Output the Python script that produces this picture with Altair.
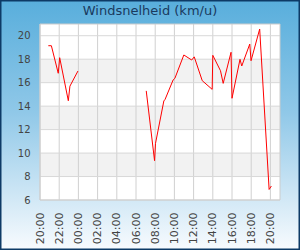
import altair as alt
import pandas as pd

# ---- data ----
times = [
    "2024-01-01T20:52:00", "2024-01-01T21:11:00", "2024-01-01T21:54:00", "2024-01-01T22:03:00",
    "2024-01-01T22:57:00", "2024-01-01T23:07:00", "2024-01-01T23:57:00",
    "2024-01-02T07:04:00", "2024-01-02T07:56:00", "2024-01-02T08:02:00", "2024-01-02T08:54:00",
    "2024-01-02T09:02:00", "2024-01-02T09:52:00", "2024-01-02T10:03:00", "2024-01-02T10:59:00",
    "2024-01-02T11:48:00", "2024-01-02T12:04:00", "2024-01-02T12:54:00", "2024-01-02T13:56:00",
    "2024-01-02T14:00:00", "2024-01-02T14:48:00", "2024-01-02T15:05:00", "2024-01-02T15:54:00",
    "2024-01-02T16:00:00", "2024-01-02T16:50:00", "2024-01-02T17:01:00", "2024-01-02T17:51:00",
    "2024-01-02T17:59:00", "2024-01-02T18:53:00", "2024-01-02T19:52:00", "2024-01-02T20:06:00",
]
speed = [
    19.15, 19.15, 16.8, 18.13, 14.46, 15.7, 16.99,
    15.3, 9.35, 10.83, 14.44, 14.58, 16.23, 16.37, 18.36,
    17.93, 18.2, 16.17, 15.43, 18.33, 17.02, 15.94, 18.59,
    14.67, 17.99, 17.42, 19.29, 17.87, 20.57, 6.9, 7.19,
]
segment = [1] * 7 + [2] * 24

x_tick_hours = [20, 22, 0, 2, 4, 6, 8, 10, 12, 14, 16, 18, 20]
x_tick_days = [1, 1, 2, 2, 2, 2, 2, 2, 2, 2, 2, 2, 2]
y_ticks = [6, 8, 10, 12, 14, 16, 18, 20]
band_lo = [8, 12, 16]
band_hi = [10, 14, 18]
title_text = "Windsnelheid (km/u)"

x_tick_dt = [alt.DateTime(year=2024, month=1, date=d, hours=h) for d, h in zip(x_tick_days, x_tick_hours)]
x_domain = [alt.DateTime(year=2024, month=1, date=1, hours=20),
            alt.DateTime(year=2024, month=1, date=2, hours=21)]
y_domain = [6, 21]

df = pd.DataFrame({"t": times, "v": speed, "seg": segment})
bands = pd.DataFrame({"lo": band_lo, "hi": band_hi})
vgrid = pd.DataFrame({"t": [f"2024-01-0{d}T{h:02d}:00:00" for d, h in zip(x_tick_days, x_tick_hours)]})
hgrid = pd.DataFrame({"v": y_ticks})
one = pd.DataFrame({"a": [0]})

xscale = alt.Scale(domain=x_domain)
yscale = alt.Scale(domain=y_domain, nice=False, zero=False)

xaxis = alt.Axis(values=x_tick_dt, format="%H:%M", labelAngle=-90, labelFontSize=11,
                 labelColor="#444444", labelFont="DejaVu Sans", ticks=False,
                 tickSize=0, domain=False, grid=False, labelPadding=12,
                 title=None, zindex=2, labelOverlap=False)
yaxis = alt.Axis(values=y_ticks, labelFontSize=10, labelColor="#444444",
                 labelFont="DejaVu Sans", ticks=False, tickSize=0, domain=False,
                 grid=False, labelPadding=10, title=None, zindex=2)

grad = alt.Gradient(
    gradient="linear",
    stops=[alt.GradientStop(color="#58aedc", offset=0),
           alt.GradientStop(color="#90c8e8", offset=0.45),
           alt.GradientStop(color="#f8fbfe", offset=1)],
    x1=0, x2=0, y1=0, y2=1,
)

bg = alt.Chart(one).mark_rect(fill=grad).encode(
    x=alt.value(-40), x2=alt.value(260), y=alt.value(-24), y2=alt.value(226)
)
frame = alt.Chart(one).mark_rect(fill=None, stroke="#0d3a66", strokeWidth=1.5).encode(
    x=alt.value(-39.25), x2=alt.value(259.25), y=alt.value(-23.25), y2=alt.value(225.25)
)
plotbg = alt.Chart(one).mark_rect(fill="white").encode(
    x=alt.value(0), x2=alt.value(240), y=alt.value(0), y2=alt.value(176)
)
bandl = alt.Chart(bands).mark_rect(fill="#f2f2f2").encode(
    x=alt.value(0), x2=alt.value(240),
    y=alt.Y("lo:Q", scale=yscale, axis=yaxis), y2="hi:Q",
)
vlines = alt.Chart(vgrid).mark_rule(color="#d0d0d0", strokeWidth=1).encode(
    x=alt.X("t:T", scale=xscale, axis=xaxis), y=alt.value(0), y2=alt.value(176)
)
hlines = alt.Chart(hgrid).mark_rule(color="#d8d8d8", strokeWidth=1).encode(
    y=alt.Y("v:Q", scale=yscale, axis=yaxis), x=alt.value(0), x2=alt.value(240)
)
line = alt.Chart(df).mark_line(color="#ff0000", strokeWidth=1).encode(
    x=alt.X("t:T", scale=xscale, axis=xaxis),
    y=alt.Y("v:Q", scale=yscale, axis=yaxis),
    detail="seg:N",
)
border = alt.Chart(one).mark_rect(fill=None, stroke="#cccccc", strokeWidth=1).encode(
    x=alt.value(0), x2=alt.value(240), y=alt.value(0), y2=alt.value(176)
)
title = alt.Chart(one).mark_text(font="DejaVu Sans", fontSize=13, color="#1a3a5e",
                                 baseline="middle", align="center").encode(
    x=alt.value(110), y=alt.value(-13), text=alt.value(title_text)
)

chart = alt.layer(bg, frame, plotbg, bandl, vlines, hlines, line, border, title).properties(
    width=240, height=176, autosize="none",
    padding={"left": 40, "top": 24, "right": 20, "bottom": 50},
).configure_view(strokeWidth=0, fill=None)

chart.save("out.html", embed_options={"renderer": "svg", "actions": False})
